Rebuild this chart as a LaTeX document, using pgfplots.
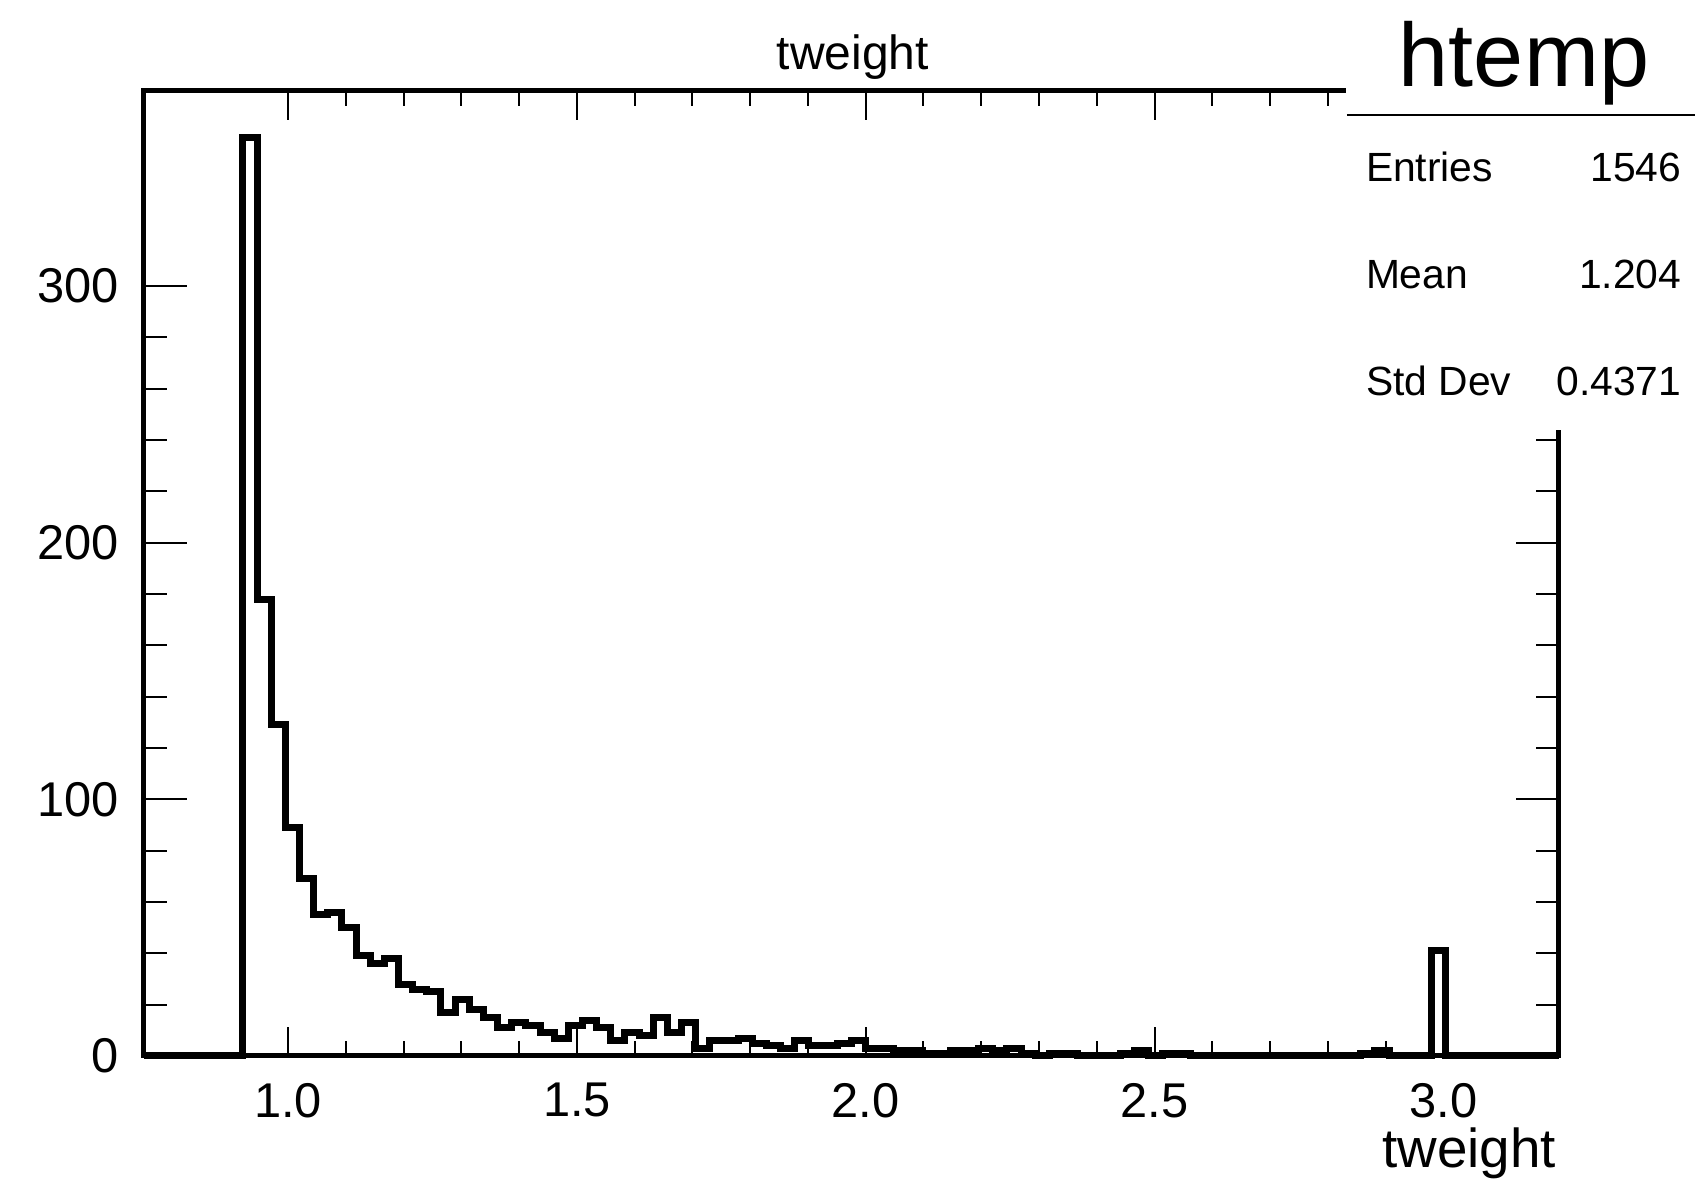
\documentclass[border=0pt]{standalone}
\usepackage{fontspec}
\setmainfont{Liberation Sans}
\usepackage{pgfplots}
\pgfplotsset{compat=1.18}
\begin{document}
\begin{tikzpicture}
\useasboundingbox (0,0) rectangle (423.75pt,297.75pt);
\begin{axis}[
  at={(35.95pt,33.75pt)}, anchor=south west,
  scale only axis, width=353.75pt, height=241.3pt,
  xmin=0.75, xmax=3.2, ymin=0, ymax=376,
  xtick={1,1.5,2,2.5,3}, minor x tick num=4,
  xticklabels={1.0,1.5,2.0,2.5,3.0},
  ytick={0,100,200,300}, minor y tick num=4,
  tick align=inside, xtick pos=both, ytick pos=both,
  axis line style={line width=1.25pt},
  tick style={black, line width=0.5pt},
  xtick style={/pgfplots/major tick length=7.25pt,/pgfplots/minor tick length=3.75pt},
  ytick style={/pgfplots/major tick length=10.75pt,/pgfplots/minor tick length=5.75pt},
  tick label style={font=\fontsize{12.2}{14}\selectfont},
  /pgf/number format/assume math mode=true,
  xticklabel shift=3.3pt, yticklabel shift=2.8pt,
  clip=false,
]
\addplot[const plot, line width=1.75pt, black, line join=miter] coordinates {
(0.7500,0) (0.7745,0) (0.7990,0) (0.8235,0) (0.8480,0) (0.8725,0) (0.8970,0)
(0.9215,358) (0.9460,178) (0.9705,129) (0.9950,89) (1.0195,69) (1.0440,55)
(1.0685,56) (1.0930,50) (1.1175,39) (1.1420,36) (1.1665,38) (1.1910,28)
(1.2155,26) (1.2400,25) (1.2645,17) (1.2890,22) (1.3135,18) (1.3380,15)
(1.3625,11) (1.3870,13) (1.4115,12) (1.4360,9) (1.4605,7) (1.4850,12)
(1.5095,14) (1.5340,11) (1.5585,6) (1.5830,9) (1.6075,8) (1.6320,15)
(1.6565,9) (1.6810,13) (1.7055,3) (1.7300,6) (1.7545,6) (1.7790,7)
(1.8035,5) (1.8280,4) (1.8525,3) (1.8770,6) (1.9015,4) (1.9260,4)
(1.9505,5) (1.9750,6) (1.9995,3) (2.0240,3) (2.0485,2) (2.0730,2)
(2.0975,1) (2.1220,1) (2.1465,2) (2.1710,2) (2.1955,3) (2.2200,2)
(2.2445,3) (2.2690,1) (2.2935,0) (2.3180,1) (2.3425,1) (2.3670,0)
(2.3915,0) (2.4160,0) (2.4405,1) (2.4650,2) (2.4895,0) (2.5140,1)
(2.5385,1) (2.5630,0) (2.5875,0) (2.6120,0) (2.6365,0) (2.6610,0)
(2.6855,0) (2.7100,0) (2.7345,0) (2.7590,0) (2.7835,0) (2.8080,0)
(2.8325,0) (2.8570,1) (2.8815,2) (2.9060,0) (2.9305,0) (2.9550,0)
(2.9795,41) (3.0040,0) (3.0285,0) (3.0530,0) (3.0775,0) (3.1020,0)
(3.1265,0) (3.1510,0) (3.1755,0) (3.2000,0)
};
\end{axis}
% title and axis label
\node[anchor=base, inner sep=0, font=\fontsize{12}{14}\selectfont] at (213.25pt,280.45pt) {tweight};
\node[anchor=base east, inner sep=0, font=\fontsize{13.7}{16}\selectfont] at (389.2pt,5.9pt) {tweight};
% statistics box
\fill[white] (336.5pt,190.25pt) rectangle (423.75pt,297.75pt);
\draw[line width=0.5pt] (336.7pt,269pt) -- (423.75pt,269pt);
\node[anchor=base, inner sep=0, font=\fontsize{22.5}{26}\selectfont] at (381pt,276.1pt) {htemp};
\node[anchor=base west, inner sep=0, font=\fontsize{10.2}{12}\selectfont] at (341.3pt,252.35pt) {Entries};
\node[anchor=base east, inner sep=0, font=\fontsize{10.2}{12}\selectfont] at (420.5pt,252.35pt) {1546};
\node[anchor=base west, inner sep=0, font=\fontsize{10.2}{12}\selectfont] at (341.3pt,225.6pt) {Mean};
\node[anchor=base east, inner sep=0, font=\fontsize{10.2}{12}\selectfont] at (420.5pt,225.6pt) {1.204};
\node[anchor=base west, inner sep=0, font=\fontsize{10.2}{12}\selectfont] at (341.3pt,198.85pt) {Std Dev};
\node[anchor=base east, inner sep=0, font=\fontsize{10.2}{12}\selectfont] at (420.5pt,198.85pt) {0.4371};
\end{tikzpicture}
\end{document}
